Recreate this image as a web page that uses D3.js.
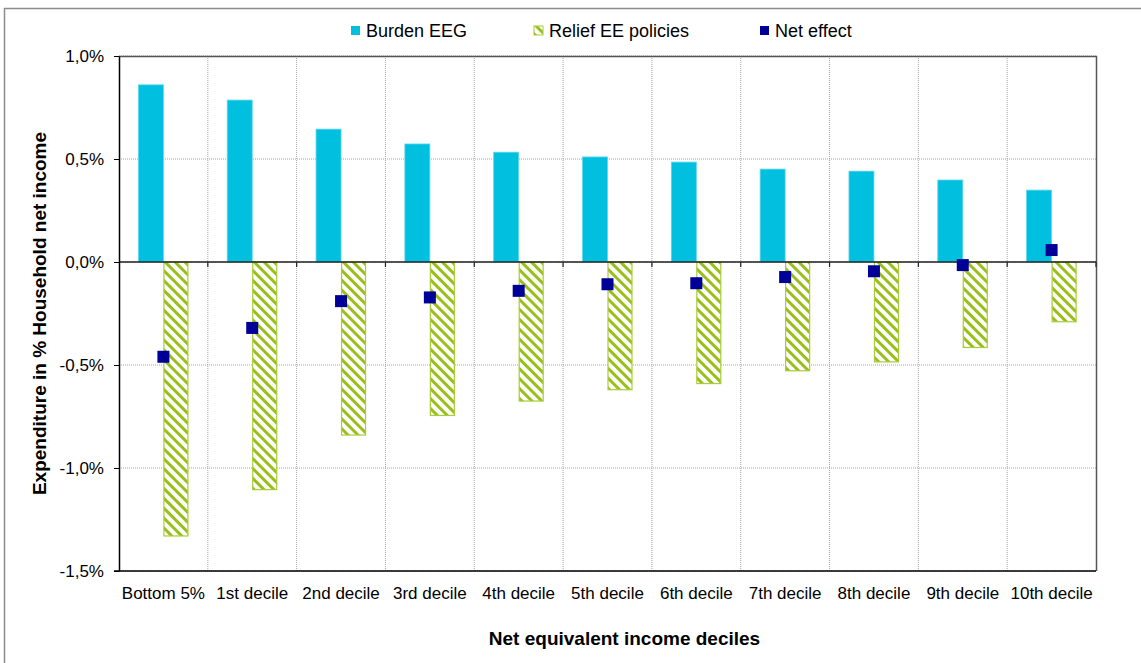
<!DOCTYPE html>
<html>
<head>
<meta charset="utf-8">
<script src="https://cdn.jsdelivr.net/npm/d3@7"></script>
<style>
  body { margin: 0; background: #fff; }
  text { font-family: Arial, "Liberation Sans", sans-serif; }
</style>
</head>
<body>
<div id="chart"></div>
<script>
// data (share of household net income, %)
var categories = ["Bottom 5%", "1st decile", "2nd decile", "3rd decile", "4th decile", "5th decile",
  "6th decile", "7th decile", "8th decile", "9th decile", "10th decile"];
var burdenEEG = [0.86, 0.786, 0.645, 0.573, 0.533, 0.51, 0.485, 0.451, 0.441, 0.398, 0.349];
var reliefEE = [-1.33, -1.105, -0.84, -0.745, -0.675, -0.62, -0.59, -0.528, -0.485, -0.415, -0.29];
var netEffect = [-0.46, -0.32, -0.19, -0.172, -0.14, -0.108, -0.103, -0.073, -0.045, -0.015, 0.058];
var yTicks = [1.0, 0.5, 0.0, -0.5, -1.0, -1.5];

var width = 1141, height = 663;
var margin = { top: 56, right: 45, bottom: 92, left: 119 };

var svg = d3.select("#chart").append("svg")
  .attr("width", width)
  .attr("height", height);

// outer chart frame
svg.append("rect")
  .attr("x", 4.5).attr("y", 8.5)
  .attr("width", width + 10).attr("height", height + 10)
  .attr("fill", "none").attr("stroke", "#8c8c8c").attr("stroke-width", 1.5);

// hatch pattern for relief bars
var defs = svg.append("defs");
var pat = defs.append("pattern")
  .attr("id", "hatch")
  .attr("patternUnits", "userSpaceOnUse")
  .attr("width", 7).attr("height", 7)
  .attr("patternTransform", "rotate(-45)");
pat.append("rect").attr("width", 7).attr("height", 7).attr("fill", "#fff");
pat.append("rect").attr("x", 0).attr("width", 3).attr("height", 7).attr("fill", "#99bf1a");

var x = d3.scaleBand()
  .domain(categories)
  .range([margin.left, width - margin.right]);

var y = d3.scaleLinear()
  .domain([-1.5, 1.0])
  .range([height - margin.bottom, margin.top]);

var fmt = function(d) { return d.toFixed(1).replace(".", ",") + "%"; };

// horizontal gridlines
svg.append("g")
  .selectAll("line")
  .data(yTicks)
  .enter().append("line")
  .attr("x1", margin.left).attr("x2", width - margin.right)
  .attr("y1", d => y(d)).attr("y2", d => y(d))
  .attr("stroke", "#a6a6a6")
  .attr("stroke-dasharray", "1,1");

// vertical gridlines at category boundaries
svg.append("g")
  .selectAll("line")
  .data(categories.slice(1))
  .enter().append("line")
  .attr("x1", d => x(d)).attr("x2", d => x(d))
  .attr("y1", margin.top).attr("y2", height - margin.bottom)
  .attr("stroke", "#a6a6a6")
  .attr("stroke-dasharray", "1,1");

// plot frame (top / right)
svg.append("path")
  .attr("d", "M" + margin.left + "," + (margin.top + 0.5) + "H" + (width - margin.right + 0.5) + "V" + (height - margin.bottom))
  .attr("fill", "none").attr("stroke", "#555").attr("stroke-width", 1.5);

var bw = 25;

// burden bars
svg.append("g")
  .selectAll("rect")
  .data(burdenEEG)
  .enter().append("rect")
  .attr("x", (d, i) => x(categories[i]) + x.bandwidth() / 2 - bw)
  .attr("y", d => y(d))
  .attr("width", bw)
  .attr("height", d => y(0) - y(d))
  .attr("fill", "#00bfdf")
  .attr("stroke", "#5fd6ec")
  .attr("stroke-width", 0.8);

// relief bars
svg.append("g")
  .selectAll("rect")
  .data(reliefEE)
  .enter().append("rect")
  .attr("x", (d, i) => x(categories[i]) + x.bandwidth() / 2 + 0.5)
  .attr("y", y(0))
  .attr("width", bw - 1)
  .attr("height", d => y(d) - y(0))
  .attr("fill", "url(#hatch)")
  .attr("stroke", "#a8cc3a")
  .attr("stroke-width", 1.2);

// zero line with small ticks at boundaries
svg.append("line")
  .attr("x1", margin.left).attr("x2", width - margin.right)
  .attr("y1", y(0)).attr("y2", y(0))
  .attr("stroke", "#222").attr("stroke-width", 1.5);
svg.append("g")
  .selectAll("line")
  .data(categories.slice(1).concat(["__end"]))
  .enter().append("line")
  .attr("x1", d => d === "__end" ? width - margin.right : x(d))
  .attr("x2", d => d === "__end" ? width - margin.right : x(d))
  .attr("y1", y(0)).attr("y2", y(0) + 5)
  .attr("stroke", "#222").attr("stroke-width", 1.2);

// net effect markers
var ms = 12;
svg.append("g")
  .selectAll("rect")
  .data(netEffect)
  .enter().append("rect")
  .attr("x", (d, i) => x(categories[i]) + x.bandwidth() / 2 - ms / 2)
  .attr("y", d => y(d) - ms / 2)
  .attr("width", ms).attr("height", ms)
  .attr("fill", "#000099");

// y axis
svg.append("g")
  .attr("transform", "translate(" + margin.left + ",0)")
  .call(d3.axisLeft(y).tickValues(yTicks).tickFormat(fmt).tickSize(5).tickSizeOuter(0))
  .call(g => g.select(".domain").attr("stroke", "#000").attr("stroke-width", 1.5))
  .call(g => g.selectAll(".tick line").attr("stroke", "#000"))
  .call(g => g.selectAll(".tick text").attr("x", -15).attr("fill", "#000").style("font-size", "17px"));

// bottom x axis
svg.append("g")
  .attr("transform", "translate(0," + y(-1.5) + ")")
  .call(d3.axisBottom(x).tickSize(0).tickPadding(16))
  .call(g => g.select(".domain").attr("stroke", "#000").attr("stroke-width", 1.5)
    .attr("d", "M" + (margin.left - 5) + ",0H" + (width - margin.right)))
  .call(g => g.selectAll(".tick text").attr("fill", "#000").style("font-size", "17px"));

// axis titles
svg.append("text")
  .attr("x", (margin.left + width - margin.right) / 2 + 17)
  .attr("y", 645)
  .attr("text-anchor", "middle")
  .style("font-size", "19px")
  .style("font-weight", "bold")
  .text("Net equivalent income deciles");

svg.append("text")
  .attr("transform", "translate(46," + y(-0.25) + ") rotate(-90)")
  .attr("text-anchor", "middle")
  .style("font-size", "19px")
  .style("font-weight", "bold")
  .text("Expenditure in % Household net income");

// legend
var legend = [
  { label: "Burden EEG", fill: "#00bfdf", x: 351 },
  { label: "Relief EE policies", fill: "url(#hatch)", x: 534, stroke: "#a8cc3a" },
  { label: "Net effect", fill: "#000099", x: 760 }
];
var lg = svg.append("g").selectAll("g")
  .data(legend)
  .enter().append("g")
  .attr("transform", d => "translate(" + d.x + ",26)");
lg.append("rect")
  .attr("width", 9).attr("height", 9)
  .attr("fill", d => d.fill)
  .attr("stroke", d => d.stroke || "none");
lg.append("text")
  .attr("x", 15).attr("y", 11)
  .style("font-size", "18px")
  .text(d => d.label);
</script>
</body>
</html>
